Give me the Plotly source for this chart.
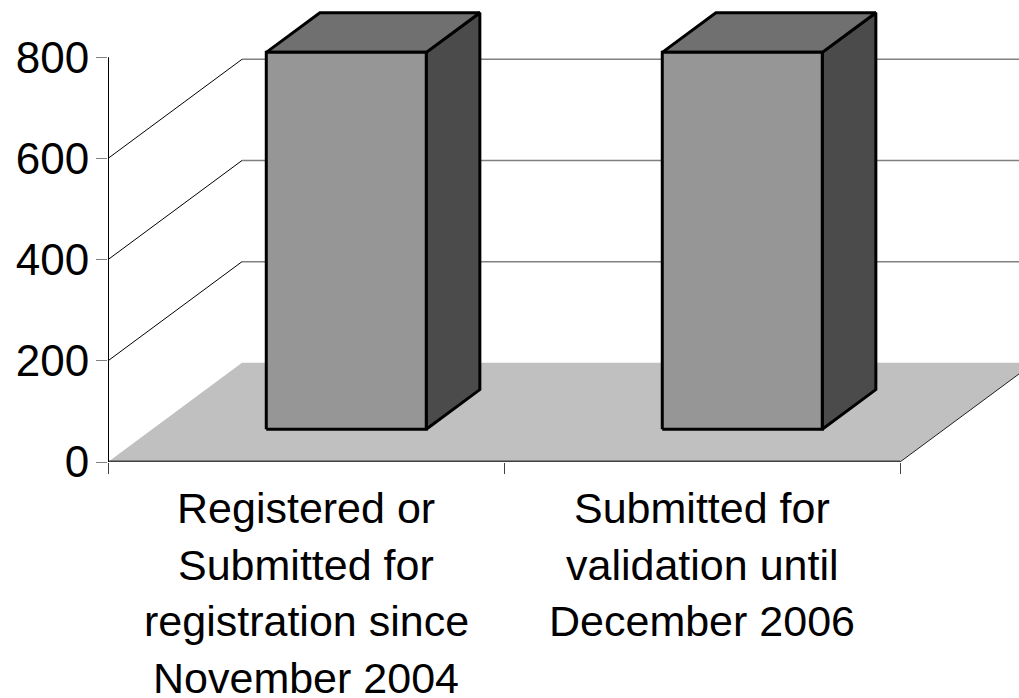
import plotly.graph_objects as go

# ---- data ----
categories = [
    "Registered or<br>Submitted for<br>registration since<br>November 2004",
    "Submitted for<br>validation until<br>December 2006",
]
values = [745, 745]
y_ticks = [0, 200, 400, 600, 800]
y_tick_labels = ["0", "200", "400", "600", "800"]

# ---- 3D projection / style constants ----
DX = 134 / 396      # depth shift in category units
DY = 196            # depth shift in value units
BAR_L, BAR_R = 0.288, 0.692
FRONT, DEPTH = 0.33, 0.40
FONT = "Liberation Sans, Arial, sans-serif"

n = len(categories)
fig = go.Figure()


def add_poly(xs, ys, fill=None, color="black", width=1):
    if fill:
        fig.add_trace(go.Scatter(
            x=xs + [xs[0]], y=ys + [ys[0]], mode="lines", fill="toself",
            fillcolor=fill, line=dict(color=color, width=width),
            hoverinfo="skip", showlegend=False))
    else:
        fig.add_trace(go.Scatter(
            x=xs, y=ys, mode="lines", line=dict(color=color, width=width),
            hoverinfo="skip", showlegend=False))


# floor
add_poly([0, DX, n + DX, n], [0, DY, DY, 0], fill="#C0C0C0",
         color="rgba(0,0,0,0)", width=0)

# back wall gridlines
for v in y_ticks[1:]:
    add_poly([DX, n + DX + 1], [v + DY, v + DY], color="#808080", width=1.5)

# side wall diagonals
for v in y_ticks[1:-1]:
    add_poly([0, DX], [v, v + DY], color="black", width=1)

# floor right edge
add_poly([n, n + DX], [0, DY], color="#202020", width=1)
# front category axis line
add_poly([0, n], [0, 0], color="#404040", width=3)
# value axis line
add_poly([0, 0], [0, y_ticks[-1]], color="black", width=2)

# bars
for i, v in enumerate(values):
    x0 = i + BAR_L + FRONT * DX
    x1 = i + BAR_R + FRONT * DX
    yb = FRONT * DY
    yt = v + FRONT * DY
    ddx = DEPTH * DX
    ddy = DEPTH * DY
    add_poly([x1, x1, x1 + ddx, x1 + ddx], [yb, yt, yt + ddy, yb + ddy],
             fill="#4B4B4B", color="black", width=3)
    add_poly([x0, x0 + ddx, x1 + ddx, x1], [yt, yt + ddy, yt + ddy, yt],
             fill="#707070", color="black", width=3)
    add_poly([x0, x1, x1, x0], [yb, yb, yt, yt],
             fill="#969696", color="black", width=3)

# category labels (one annotation per line)
for i, label in enumerate(categories):
    for j, line in enumerate(label.split("<br>")):
        fig.add_annotation(
            x=i + 0.5, y=0, xref="x", yref="y", text=line, showarrow=False,
            yanchor="middle", xanchor="center", yshift=-(46 + 56.5 * j),
            font=dict(family=FONT, size=43, color="black"))

fig.update_layout(
    width=1019, height=698,
    margin=dict(l=108, r=0, t=0, b=236, pad=0),
    paper_bgcolor="white", plot_bgcolor="white",
    showlegend=False,
    xaxis=dict(range=[0, 911 / 396], tickvals=list(range(n + 1)),
               showticklabels=False, ticks="outside", ticklen=11,
               tickcolor="#404040", tickwidth=1, showgrid=False,
               zeroline=False, showline=False, fixedrange=True),
    yaxis=dict(range=[0, 913.2], tickvals=y_ticks, ticktext=y_tick_labels,
               ticks="outside", ticklen=11, tickcolor="#808080", tickwidth=1,
               tickfont=dict(family=FONT, size=44, color="black"),
               ticklabelstandoff=-2, showgrid=False, zeroline=False,
               showline=False, fixedrange=True),
)

fig.write_html("out.html", config={"displayModeBar": False},
               post_script="document.body.style.margin='0';")
